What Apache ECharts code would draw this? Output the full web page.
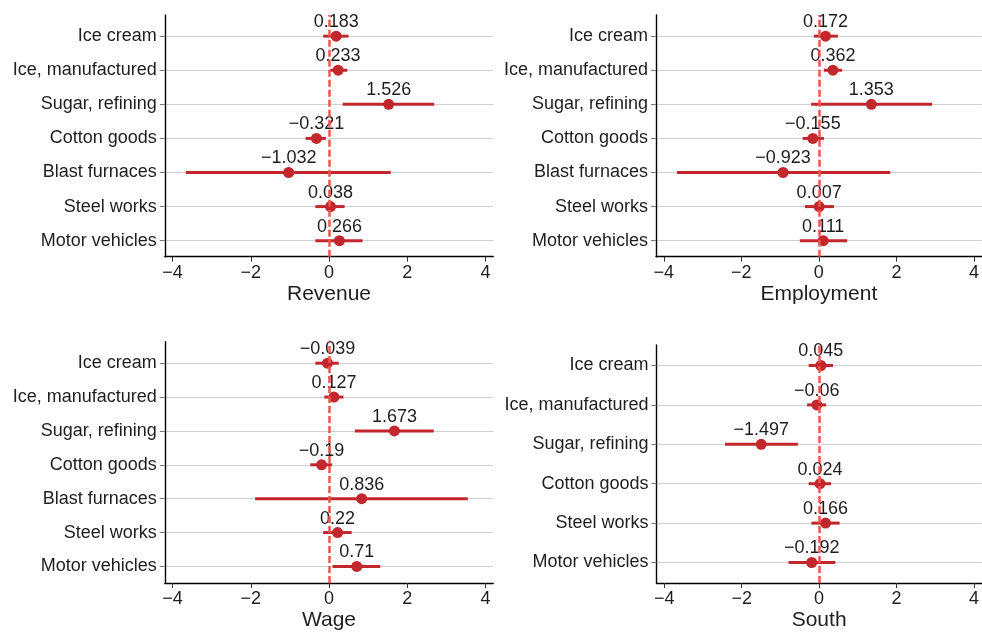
<!DOCTYPE html>
<html>
<head>
<meta charset="utf-8">
<script src="https://cdn.jsdelivr.net/npm/echarts@6/dist/echarts.min.js"></script>
<style>
  html, body { margin: 0; padding: 0; background: #fff; }
  #chart { width: 982px; height: 632px; }
</style>
</head>
<body>
<div id="chart"></div>
<script>
// Industries, top to bottom
const industries = ['Ice cream', 'Ice, manufactured', 'Sugar, refining', 'Cotton goods',
                    'Blast furnaces', 'Steel works', 'Motor vehicles'];
const southIndustries = ['Ice cream', 'Ice, manufactured', 'Sugar, refining', 'Cotton goods',
                         'Steel works', 'Motor vehicles'];

// Point estimates with confidence bounds
const revenueEst = [0.183, 0.233, 1.526, -0.321, -1.032, 0.038, 0.266];
const revenueLo  = [-0.15, 0.03, 0.35, -0.60, -3.66, -0.35, -0.35];
const revenueHi  = [0.50, 0.47, 2.69, -0.08, 1.58, 0.40, 0.86];

const employmentEst = [0.172, 0.362, 1.353, -0.155, -0.923, 0.007, 0.111];
const employmentLo  = [-0.13, 0.13, -0.20, -0.42, -3.66, -0.36, -0.49];
const employmentHi  = [0.49, 0.60, 2.92, 0.13, 1.84, 0.39, 0.73];

const wageEst = [-0.039, 0.127, 1.673, -0.19, 0.836, 0.22, 0.71];
const wageLo  = [-0.35, -0.12, 0.66, -0.48, -1.89, -0.15, 0.09];
const wageHi  = [0.25, 0.37, 2.68, 0.08, 3.55, 0.58, 1.31];

const southEst = [0.045, -0.06, -1.497, 0.024, 0.166, -0.192];
const southLo  = [-0.27, -0.31, -2.43, -0.27, -0.20, -0.79];
const southHi  = [0.36, 0.18, -0.55, 0.31, 0.53, 0.42];

const xTicks = [-4, -2, 0, 2, 4];

const FONT = 'Liberation Sans, Arial, Helvetica, sans-serif';
const TEXT = '#1e1e1e';
const DOT = '#c1272d';
const ZERO = '#f0564a';

const fmt = v => (v < 0 ? '\u2212' + String(Math.abs(v)) : String(v));

const panels = [
  { name: 'Revenue',    cats: industries,      est: revenueEst,    lo: revenueLo,    hi: revenueHi,
    grid: { left: 164.8, top: 15, width: 328.4, height: 241.7 }, yMin: 0.53, yMax: 7.62 },
  { name: 'Employment', cats: industries,      est: employmentEst, lo: employmentLo, hi: employmentHi,
    grid: { left: 656, top: 15, width: 328.8, height: 241.7 }, yMin: 0.53, yMax: 7.62 },
  { name: 'Wage',       cats: industries,      est: wageEst,       lo: wageLo,       hi: wageHi,
    grid: { left: 164.8, top: 341.7, width: 328.4, height: 242.3 }, yMin: 0.51, yMax: 7.635 },
  { name: 'South',      cats: southIndustries, est: southEst,      lo: southLo,      hi: southHi,
    grid: { left: 656.5, top: 345, width: 328.8, height: 240 }, yMin: 0.48, yMax: 6.52 }
];

const grids = [], xAxes = [], yAxes = [], series = [];

panels.forEach((p, k) => {
  const n = p.cats.length;
  const rows = p.cats.map((_, i) => n - i);   // top row gets the largest position
  grids.push(p.grid);

  xAxes.push({
    type: 'value', gridIndex: k, min: -4.2, max: 4.2,
    name: p.name, nameLocation: 'middle', nameGap: 27,
    nameTextStyle: { fontFamily: FONT, fontSize: 21, color: TEXT },
    axisLine: { show: true, onZero: false, lineStyle: { color: '#000', width: 1.4 } },
    axisTick: { show: true, customValues: xTicks, length: 5, lineStyle: { color: '#333', width: 1 } },
    axisLabel: { customValues: xTicks, margin: 7, fontFamily: FONT, fontSize: 18, color: TEXT,
                 formatter: v => fmt(v) },
    splitLine: { show: false }
  });

  yAxes.push({
    type: 'value', gridIndex: k, min: p.yMin, max: p.yMax,
    axisLine: { show: true, onZero: false, lineStyle: { color: '#000', width: 1.4 } },
    axisTick: { show: true, customValues: rows, length: 5, lineStyle: { color: '#777', width: 1 } },
    axisLabel: { customValues: rows, margin: 8, fontFamily: FONT, fontSize: 18, color: TEXT,
                 formatter: v => p.cats[n - Math.round(v)] },
    splitLine: { show: true, lineStyle: { color: '#cfcfcf', width: 1.2 } }
  });

  // confidence intervals
  series.push({
    type: 'custom', xAxisIndex: k, yAxisIndex: k, z: 2, silent: true,
    data: p.cats.map((_, i) => [p.lo[i], p.hi[i], rows[i]]),
    renderItem: (params, api) => {
      const a = api.coord([api.value(0), api.value(2)]);
      const b = api.coord([api.value(1), api.value(2)]);
      return { type: 'line', shape: { x1: a[0], y1: a[1], x2: b[0], y2: b[1] },
               style: { stroke: DOT, lineWidth: 3 } };
    }
  });

  // point estimates with their values
  series.push({
    type: 'scatter', xAxisIndex: k, yAxisIndex: k, z: 3, silent: true,
    symbol: 'circle', symbolSize: 11,
    itemStyle: { color: DOT, opacity: 1 },
    data: p.cats.map((_, i) => [p.est[i], rows[i]]),
    label: {
      show: true, position: 'inside', offset: [0, -14],
      fontFamily: FONT, fontSize: 18, color: TEXT,
      formatter: d => fmt(d.value[0])
    }
  });

  // reference line at zero, drawn above everything else
  series.push({
    type: 'line', xAxisIndex: k, yAxisIndex: k, z: 10, data: [], silent: true,
    markLine: {
      silent: true, symbol: ['none', 'none'], label: { show: false },
      lineStyle: { color: ZERO, type: [7, 3], width: 2.5, opacity: 1 },
      data: [{ xAxis: 0 }]
    }
  });
});

const chart = echarts.init(document.getElementById('chart'), null, { renderer: 'canvas' });
chart.setOption({
  animation: false,
  backgroundColor: '#fff',
  grid: grids,
  xAxis: xAxes,
  yAxis: yAxes,
  series: series
});
</script>
</body>
</html>
